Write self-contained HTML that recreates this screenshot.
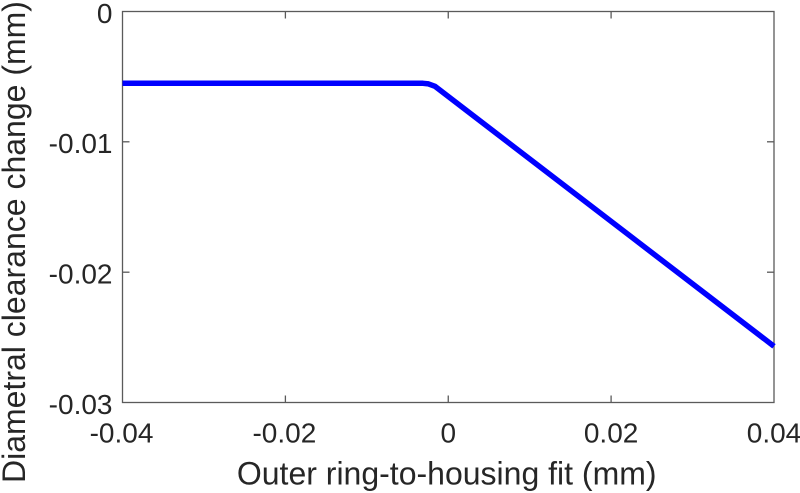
<!DOCTYPE html>
<html>
<head>
<meta charset="utf-8">
<style>
  html, body { margin:0; padding:0; background:#ffffff; }
  body { width:800px; height:493px; overflow:hidden; }
  svg { display:block; }
  text { font-family: "Liberation Sans", Arial, sans-serif; fill:#262626; }
</style>
</head>
<body>
<svg width="800" height="493" viewBox="0 0 800 493" xmlns="http://www.w3.org/2000/svg">
  <rect x="0" y="0" width="800" height="493" fill="#ffffff"/>
  <!-- axes box -->
  <rect x="122.5" y="11.5" width="651.5" height="391" fill="none" stroke="#5a5a5a" stroke-width="1.3"/>
  <!-- x ticks bottom & top -->
  <g stroke="#5a5a5a" stroke-width="1.3">
    <line x1="285.4" y1="402.5" x2="285.4" y2="395.5"/>
    <line x1="448.25" y1="402.5" x2="448.25" y2="395.5"/>
    <line x1="611.1" y1="402.5" x2="611.1" y2="395.5"/>
    <line x1="285.4" y1="11.5" x2="285.4" y2="18.5"/>
    <line x1="448.25" y1="11.5" x2="448.25" y2="18.5"/>
    <line x1="611.1" y1="11.5" x2="611.1" y2="18.5"/>
    <!-- y ticks left & right -->
    <line x1="122.5" y1="141.8" x2="129.5" y2="141.8"/>
    <line x1="122.5" y1="272.2" x2="129.5" y2="272.2"/>
    <line x1="774" y1="141.8" x2="767" y2="141.8"/>
    <line x1="774" y1="272.2" x2="767" y2="272.2"/>
  </g>
  <!-- data line -->
  <polyline points="122.5,83.3 423,83.3 428.5,83.9 435,86.3 774,346.3" fill="none" stroke="#0000ff" stroke-width="5.5" stroke-linejoin="round"/>
  <!-- x tick labels -->
  <g font-size="28" text-anchor="middle">
    <text x="121.5" y="442.7">-0.04</text>
    <text x="284.4" y="442.7">-0.02</text>
    <text x="448.25" y="442.7">0</text>
    <text x="611.1" y="442.7">0.02</text>
    <text x="774" y="442.7">0.04</text>
  </g>
  <!-- y tick labels -->
  <g font-size="28" text-anchor="end">
    <text x="112.5" y="22.8">0</text>
    <text x="112.5" y="153.2">-0.01</text>
    <text x="112.5" y="283.5">-0.02</text>
    <text x="112.5" y="413.8">-0.03</text>
  </g>
  <!-- axis labels -->
  <text x="446.7" y="484.5" font-size="32" text-anchor="middle">Outer ring-to-housing fit (mm)</text>
  <text transform="translate(25,483) rotate(-90)" x="0" y="0" font-size="32" text-anchor="start">Diametral clearance change (mm)</text>
</svg>
</body>
</html>
